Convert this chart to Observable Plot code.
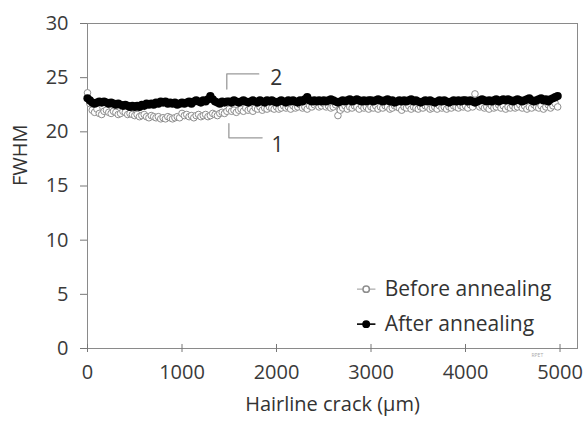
<!DOCTYPE html>
<html>
<head>
<meta charset="utf-8">
<script src="https://cdn.jsdelivr.net/npm/d3@7"></script>
<script src="https://cdn.jsdelivr.net/npm/@observablehq/plot@0.6"></script>
<style>
  html, body { margin: 0; padding: 0; background: #fff; }
  #chart svg { display: block; }
</style>
</head>
<body>
<div id="chart"></div>
<script>
// Sampling step along the crack (µm)
const step = 25;

// FWHM along the hairline crack, before annealing (one row per 500 µm)
const beforeFWHM = [
  23.6, 22.6, 22.0, 21.8, 22.1, 21.7, 21.6, 21.9, 22.0, 21.8, 21.7, 21.9, 21.8, 21.6, 21.7, 21.9, 21.8, 21.6, 21.7, 21.6,
  21.5, 21.6, 21.4, 21.5, 21.6, 21.4, 21.3, 21.5, 21.4, 21.3, 21.4, 21.2, 21.3, 21.2, 21.4, 21.3, 21.2, 21.3, 21.4, 21.3,
  21.7, 21.5, 21.6, 21.4, 21.5, 21.3, 21.5, 21.6, 21.4, 21.5, 21.6, 21.4, 21.5, 21.7, 21.6, 21.5, 21.7, 21.8, 21.7, 21.9,
  22.1, 21.9, 22.0, 21.8, 22.0, 22.1, 21.9, 22.2, 22.0, 22.1, 21.9, 22.2, 22.1, 22.3, 22.0, 22.2, 22.1, 22.3, 22.2, 22.1,
  22.3, 22.1, 22.2, 22.4, 22.2, 22.3, 22.1, 22.4, 22.2, 22.3, 22.5, 22.2, 22.3, 22.1, 22.4, 22.3, 22.5, 22.6, 22.3, 22.4,
  22.6, 22.3, 22.4, 22.2, 22.3, 22.5, 21.5, 22.0, 22.2, 22.4, 22.1, 22.3, 22.2, 22.4, 22.3, 22.1, 22.4, 22.2, 22.3, 22.1,
  22.3, 22.2, 22.4, 22.1, 22.3, 22.2, 22.4, 22.3, 22.1, 22.2, 22.4, 22.3, 22.2, 22.0, 22.3, 22.2, 22.4, 22.1, 22.3, 22.2,
  22.1, 22.3, 22.2, 22.4, 22.3, 22.1, 22.2, 22.3, 22.1, 22.4, 22.2, 22.3, 22.1, 22.3, 22.2, 22.4, 22.3, 22.2, 22.4, 22.3,
  22.4, 22.2, 22.5, 22.3, 23.5, 22.6, 22.3, 22.4, 22.2, 22.3, 22.1, 22.4, 22.2, 22.3, 22.5, 22.2, 22.4, 22.1, 22.3, 22.2,
  22.4, 22.2, 22.3, 22.5, 22.2, 22.4, 22.1, 22.3, 22.2, 22.5, 22.3, 22.2, 22.4, 22.1, 22.3, 22.5, 22.2, 22.4, 22.6, 22.3
];

// FWHM along the hairline crack, after annealing (one row per 500 µm)
const afterFWHM = [
  23.1, 22.9, 22.7, 22.6, 22.7, 22.8, 22.7, 22.8, 22.7, 22.6, 22.7, 22.6, 22.5, 22.6, 22.5, 22.4, 22.5, 22.4, 22.3, 22.4,
  22.3, 22.4, 22.3, 22.5, 22.4, 22.6, 22.5, 22.6, 22.5, 22.7, 22.6, 22.8, 22.7, 22.8, 22.6, 22.7, 22.6, 22.7, 22.5, 22.6,
  22.7, 22.6, 22.7, 22.8, 22.6, 22.8, 22.9, 22.8, 22.7, 22.9, 22.8, 23.0, 23.3, 23.0, 22.8, 22.7, 22.6, 22.8, 22.7, 22.8,
  22.8, 22.7, 22.9, 22.8, 22.7, 22.8, 22.9, 22.8, 22.7, 22.8, 22.9, 22.8, 22.7, 22.9, 22.8, 22.7, 22.9, 22.8, 22.9, 22.8,
  22.7, 22.8, 22.9, 22.8, 22.7, 22.9, 22.8, 22.9, 22.8, 22.7, 22.9, 22.8, 23.0, 23.2, 22.9, 22.8, 22.9, 22.8, 22.9, 22.8,
  22.9, 22.8, 22.9, 23.0, 22.9, 22.8, 22.7, 22.8, 22.9, 22.8, 22.9, 23.0, 22.8, 22.9, 23.0, 22.9, 22.8, 22.9, 22.8, 22.9,
  22.9, 22.8, 22.9, 23.0, 22.9, 22.8, 22.9, 23.0, 22.8, 22.9, 22.7, 22.8, 22.9, 22.8, 22.9, 22.8, 22.9, 23.0, 22.8, 22.9,
  22.8, 22.7, 22.8, 22.9, 22.8, 22.9, 22.8, 22.7, 22.8, 22.9, 22.8, 22.9, 22.8, 22.7, 22.8, 22.9, 22.8, 22.9, 22.8, 22.9,
  22.9, 22.8, 22.9, 22.8, 22.7, 22.8, 22.9, 23.0, 22.9, 22.8, 22.9, 22.8, 22.9, 23.0, 22.8, 22.9, 23.0, 22.9, 23.0, 22.9,
  22.8, 22.9, 23.0, 22.9, 22.8, 22.9, 23.0, 23.1, 22.9, 22.8, 22.9, 23.0, 23.1, 22.9, 23.0, 22.8, 23.0, 23.1, 23.2, 23.3
];

// Axis ticks
const xTicks = [0, 1000, 2000, 3000, 4000, 5000];
const yTicks = [0, 5, 10, 15, 20, 25, 30];

// Series names and legend rows (FWHM level of each row)
const seriesNames = ["Before annealing", "After annealing"];
const legendRowY = [5.48, 2.25];

// Callout brackets for the two traces: corner path and label position
const calloutLabels = ["2", "1"];
const calloutPaths = [
  [[1474, 23.95], [1474, 25.35], [1812, 25.35]],
  [[1496, 20.75], [1496, 19.45], [1848, 19.45]]
];
const calloutText = [[1997, 24.9], [2010, 18.76]];

const before = beforeFWHM.map((v, i) => ({x: i * step, y: v}));
const after = afterFWHM.map((v, i) => ({x: i * step, y: v}));

const callouts = calloutPaths.flatMap((pts, k) =>
  pts.map(([x, y]) => ({x, y, id: calloutLabels[k]})));
const calloutLabelRows = calloutText.map(([x, y], k) => ({x, y, label: calloutLabels[k]}));

const legendRows = seriesNames.map((name, k) => ({name, y: legendRowY[k], k}));
const legendMarkX = 2949, legendLine = [2857, 3052], legendTextX = 3145;

const font = "'Open Sans', Lato, sans-serif";
const inkGray = "#8e8e8e";

const chart = Plot.plot({
  width: 586,
  height: 424,
  marginLeft: 87,
  marginRight: 9,
  marginTop: 23,
  marginBottom: 76,
  x: {type: "linear", domain: [0, 5185]},
  y: {type: "linear", domain: [0, 30]},
  style: {fontFamily: font, fontSize: "20px", color: "#3a3a3a", background: "#fff"},
  marks: [
    Plot.frame({stroke: "#8a8a8a"}),
    Plot.axisY({ticks: yTicks, tickSize: 7, tickPadding: 12, label: null, fontSize: 20, stroke: "#777"}),
    Plot.axisX({ticks: xTicks, tickSize: 4, tickPadding: 12, label: null, fontSize: 20, stroke: "#777", tickFormat: d => String(d)}),
    // inner half of the crossing x ticks
    Plot.ruleX(xTicks, {x: d => d, y1: 0, y2: 0.37, stroke: "#777"}),

    // before annealing: grey line with open circles
    Plot.line(before, {x: "x", y: "y", stroke: "#b0b0b0", strokeWidth: 1}),
    Plot.dot(before, {x: "x", y: "y", r: 3.3, stroke: inkGray, strokeWidth: 1, fill: "#fff"}),

    // after annealing: black line with filled circles
    Plot.line(after, {x: "x", y: "y", stroke: "#000", strokeWidth: 3}),
    Plot.dot(after, {x: "x", y: "y", r: 4.1, fill: "#000", stroke: "none"}),

    // callouts
    Plot.line(callouts, {x: "x", y: "y", z: "id", stroke: "#9a9a9a", strokeWidth: 1.3}),
    Plot.text(calloutLabelRows, {x: "x", y: "y", text: "label", fontSize: 21, fill: "#333"}),

    // legend
    Plot.ruleY(legendRows, {y: "y", x1: legendLine[0], x2: legendLine[1], stroke: d => d.k === 0 ? "#a8a8a8" : "#000", strokeWidth: d => d.k === 0 ? 1.2 : 1.6}),
    Plot.dot(legendRows, {x: legendMarkX, y: "y", r: 3.2, fill: d => d.k === 0 ? "#fff" : "#000", stroke: d => d.k === 0 ? inkGray : "#000"}),
    Plot.text(legendRows, {x: legendTextX, y: "y", text: "name", textAnchor: "start", fontSize: 21, fill: "#333"}),

    // axis titles
    Plot.text(["FWHM"], {frameAnchor: "left", dx: -67, rotate: -90, fontSize: 20, fill: "#333"}),
    Plot.text(["Hairline crack (\u03bcm)"], {frameAnchor: "bottom", dy: 62, fontSize: 20, fill: "#333"}),

    // source tag
    Plot.text(["RPET"], {x: 4760, frameAnchor: "bottom", dy: 8, fontSize: 5, fill: "#aaa"})
  ]
});

document.getElementById("chart").appendChild(chart);
</script>
</body>
</html>
